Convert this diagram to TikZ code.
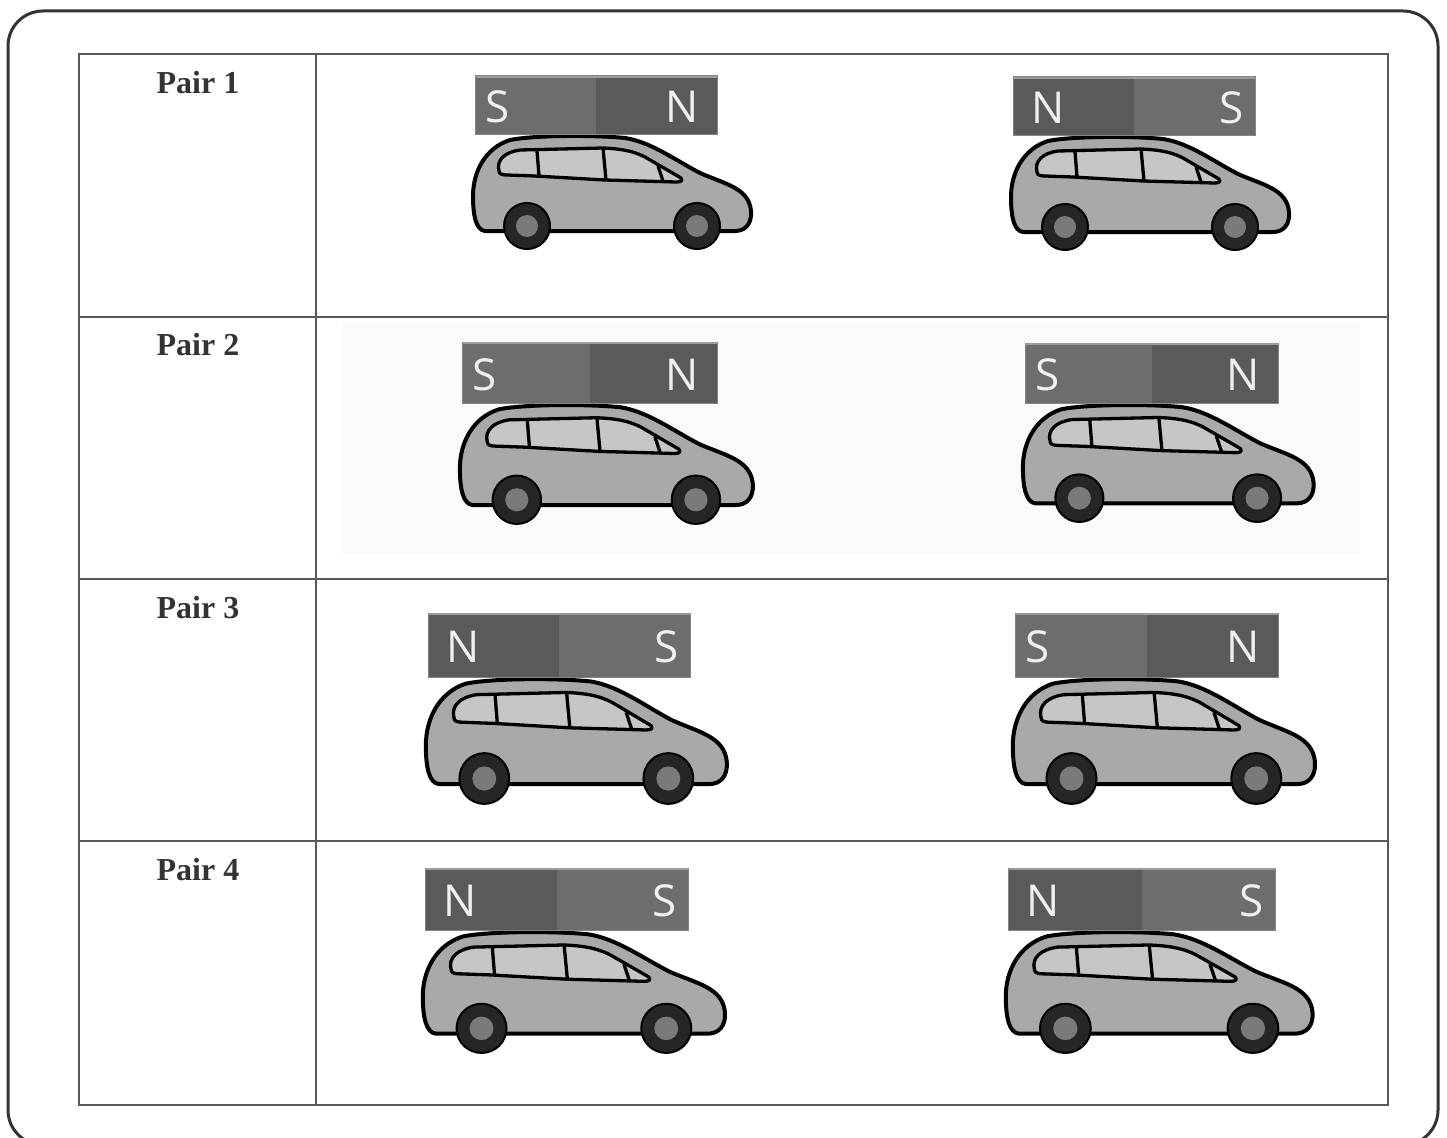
\documentclass[tikz,border=0pt]{standalone}
\usepackage{fontspec}
\setmainfont{Liberation Serif}
\newfontfamily\polefont{Open Sans}

\definecolor{carbody}{HTML}{A9A9A9}
\definecolor{carglass}{HTML}{C6C6C6}
\definecolor{tyrecol}{HTML}{262626}
\definecolor{hubcol}{HTML}{7A7A7A}
\definecolor{poleN}{HTML}{5A5A5A}
\definecolor{poleS}{HTML}{6D6D6D}
\definecolor{magrim}{HTML}{858585}
\definecolor{magtop}{HTML}{9C9C9C}

% A car carrying a bar magnet.
% #1,#2: top-left corner of the magnet, #3 x #4: magnet size,
% #5,#6: left and right pole letters, #7: name prefix for the letter nodes
\newcommand{\carmag}[7]{%
  \def\offL{23}\if N#5\def\offL{35}\fi
  \def\offR{23}\if N#6\def\offR{35}\fi
  \begin{scope}[shift={(#1,#2)}]
    \begin{scope}[xscale=#3/242, yscale=#4/58]
      \filldraw[body] (10,155) .. controls (1,154) and (-2,140) .. (-2,120)
        .. controls (-2,96) and (10,72) .. (35,64)
        .. controls (60,59) and (120,59) .. (150,62)
        .. controls (176,66) and (200,84) .. (225,97)
        .. controls (250,108) and (274,112) .. (276,135)
        .. controls (277,148) and (270,155) .. (260,155) -- cycle;
      \filldraw[glass] (24,95) .. controls (21,84) and (30,76) .. (45,74)
        -- (128,72) .. controls (150,73) and (160,76) .. (170,81)
        -- (206,102) .. controls (208,105) and (206,106) .. (201,106)
        -- (130,104) -- (60,100) -- (32,99)
        .. controls (27,99) and (24,98) .. (24,95) -- cycle;
      \draw[pillar] (62,75) -- (64,100);
      \draw[pillar] (128,72) -- (131,104);
      \draw[pillar] (183,90) -- (188,105);
      \filldraw[tyre] (52,150) circle (23);
      \fill[hubcol] (52,150) circle (11);
      \filldraw[tyre] (222,150) circle (23);
      \fill[hubcol] (222,150) circle (11);
    \end{scope}
    \fill[pole#5] (0,0) rectangle (#3/2,#4);
    \fill[pole#6] (#3/2,0) rectangle (#3,#4);
    \draw[magrim, line width=1pt] (0,0) rectangle (#3,#4);
    \draw[magtop, line width=1.5pt] (0.5,1) -- (#3-0.5,1);
    \node[poleletter] (#7-l) at (\offL,#4/2+2) {#5};
    \node[poleletter] (#7-r) at (#3-\offR,#4/2+2) {#6};
  \end{scope}}

\begin{document}
\begin{tikzpicture}[x=1pt, y=-1pt,
  frame/.style={draw=black!80, line width=3pt, rounded corners=35pt},
  grid/.style={draw=black!65, line width=2pt},
  pairlabel/.style={font=\bfseries\fontsize{32}{36}\selectfont, text=black!80, inner sep=0pt},
  body/.style={fill=carbody, draw=black, line width=4pt, line join=round},
  glass/.style={fill=carglass, draw=black, line width=3.3pt, line join=round},
  pillar/.style={draw=black, line width=3.3pt},
  tyre/.style={fill=tyrecol, draw=black, line width=2pt},
  poleletter/.style={font=\polefont\fontsize{44}{44}\selectfont, text=black!6, inner sep=0pt},
]
\useasboundingbox (0,0) rectangle (1447,1137);
\clip (0,0) rectangle (1447,1137);

% outer rounded frame
\draw[frame] (8,11) rectangle (1438,1145);

% faint backdrop of the second row's pictures
\fill[black!2] (342,322) rectangle (1360,554);

% table grid
\draw[grid] (79,54) rectangle (1388,1105);
\draw[grid] (316,54) -- (316,1105);
\draw[grid] (79,317) -- (1388,317);
\draw[grid] (79,579) -- (1388,579);
\draw[grid] (79,841) -- (1388,841);

% row labels
\node[pairlabel] (p1) at (198,83) {Pair 1};
\node[pairlabel] (p2) at (198,345) {Pair 2};
\node[pairlabel] (p3) at (198,608) {Pair 3};
\node[pairlabel] (p4) at (198,870) {Pair 4};

% cars with magnets
\carmag{475}{76}{242}{58}{S}{N}{a1}
\carmag{1013}{77}{242}{58}{N}{S}{b1}
\carmag{462}{342}{255}{61}{S}{N}{a2}
\carmag{1025}{343}{253}{60}{S}{N}{b2}
\carmag{428}{613}{262}{64}{N}{S}{a3}
\carmag{1015}{613}{263}{64}{S}{N}{b3}
\carmag{425}{868}{263}{62}{N}{S}{a4}
\carmag{1008}{868}{267}{62}{N}{S}{b4}
\end{tikzpicture}
\end{document}
